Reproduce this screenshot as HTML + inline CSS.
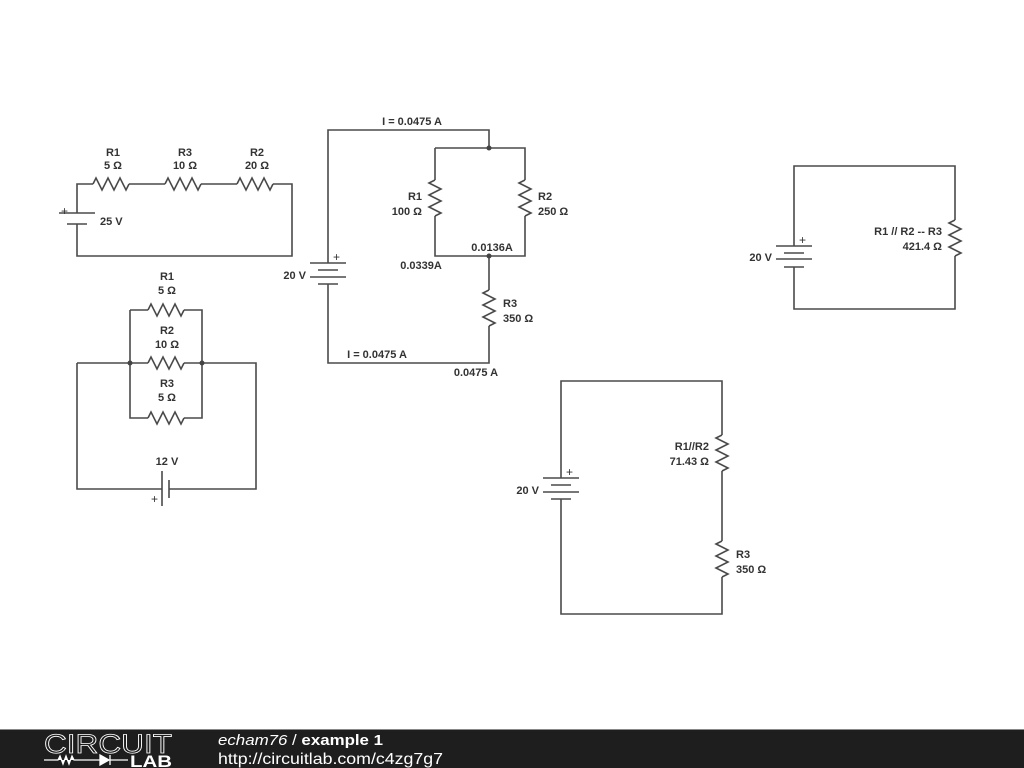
<!DOCTYPE html>
<html><head><meta charset="utf-8"><style>
body{margin:0;width:1024px;height:768px;background:#fff;overflow:hidden;}
svg{display:block}
text{font-family:"Liberation Sans",sans-serif;font-weight:bold;font-size:11px;fill:#333;}
.w{fill:none;stroke:#4a4a4a;stroke-width:1.6;stroke-linejoin:miter}
</style></head><body>
<svg width="1024" height="768" viewBox="0 0 1024 768">
<defs>
<path id="rh" d="M0,0 l3,-6 l6,12 l6,-12 l6,12 l6,-12 l6,12 l3,-6" class="w"/>
<path id="rv" d="M0,0 l-6,3 l12,6 l-12,6 l12,6 l-12,6 l12,6 l-6,3" class="w"/>
</defs>
<!-- circuit 1 -->
<path class="w" d="M77,213 V184 H93 M129,184 H165 M201,184 H237 M273,184 H292 V256 H77 V224"/>
<use href="#rh" x="93" y="184"/><use href="#rh" x="165" y="184"/><use href="#rh" x="237" y="184"/>
<path class="w" d="M59,213 H95 M67,224 H87"/>
<text x="61" y="215" style="font-weight:normal;font-size:12px">+</text>
<text x="100" y="225">25 V</text>
<text x="113" y="156" text-anchor="middle">R1</text><text x="113" y="169" text-anchor="middle">5 Ω</text>
<text x="185" y="156" text-anchor="middle">R3</text><text x="185" y="169" text-anchor="middle">10 Ω</text>
<text x="257" y="156" text-anchor="middle">R2</text><text x="257" y="169" text-anchor="middle">20 Ω</text>
<!-- circuit 2 -->
<path class="w" d="M130,310 H148 M184,310 H202 V418 H184 M148,418 H130 V310 M77,363 H148 M184,363 H256 V489 H169 M162,489 H77 V363"/>
<use href="#rh" x="148" y="310"/><use href="#rh" x="148" y="363"/><use href="#rh" x="148" y="418"/>
<circle cx="130" cy="363" r="2.5" fill="#444"/><circle cx="202" cy="363" r="2.5" fill="#444"/>
<path class="w" d="M162,471 V506 M169,480 V498"/>
<text x="151" y="503" style="font-weight:normal;font-size:12px">+</text>
<text x="167" y="465" text-anchor="middle">12 V</text>
<text x="167" y="280" text-anchor="middle">R1</text><text x="167" y="294" text-anchor="middle">5 Ω</text>
<text x="167" y="334" text-anchor="middle">R2</text><text x="167" y="348" text-anchor="middle">10 Ω</text>
<text x="167" y="387" text-anchor="middle">R3</text><text x="167" y="401" text-anchor="middle">5 Ω</text>
<!-- circuit 3 -->
<path class="w" d="M328,263 V130 H489 V148 M435,148 H525 V180 M525,216 V256 H435 V216 M435,180 V148 M489,256 V290 M489,326 V363 H328 V284"/>
<use href="#rv" x="435" y="180"/><use href="#rv" x="525" y="180"/><use href="#rv" x="489" y="290"/>
<circle cx="489" cy="148" r="2.5" fill="#444"/><circle cx="489" cy="256" r="2.5" fill="#444"/>
<path class="w" d="M310,263 H346 M318,270 H338 M310,277 H346 M318,284 H338"/>
<text x="333" y="261" style="font-weight:normal;font-size:12px">+</text>
<text x="306" y="279" text-anchor="end">20 V</text>
<text x="412" y="125" text-anchor="middle">I = 0.0475 A</text>
<text x="422" y="200" text-anchor="end">R1</text><text x="422" y="215" text-anchor="end">100 Ω</text>
<text x="538" y="200">R2</text><text x="538" y="215">250 Ω</text>
<text x="492" y="251" text-anchor="middle">0.0136A</text>
<text x="421" y="269" text-anchor="middle">0.0339A</text>
<text x="503" y="307">R3</text><text x="503" y="322">350 Ω</text>
<text x="377" y="358" text-anchor="middle">I = 0.0475 A</text>
<text x="476" y="376" text-anchor="middle">0.0475 A</text>
<!-- circuit 4 -->
<path class="w" d="M794,246 V166 H955 V220 M955,256 V309 H794 V267"/>
<use href="#rv" x="955" y="220"/>
<path class="w" d="M776,246 H812 M784,253 H804 M776,259 H812 M784,267 H804"/>
<text x="799" y="244" style="font-weight:normal;font-size:12px">+</text>
<text x="772" y="261" text-anchor="end">20 V</text>
<text x="942" y="235" text-anchor="end">R1 // R2 -- R3</text><text x="942" y="250" text-anchor="end">421.4 Ω</text>
<!-- circuit 5 -->
<path class="w" d="M561,478 V381 H722 V435 M722,471 V541 M722,577 V614 H561 V499"/>
<use href="#rv" x="722" y="435"/><use href="#rv" x="722" y="541"/>
<path class="w" d="M543,478 H579 M551,485 H571 M543,492 H579 M551,499 H571"/>
<text x="566" y="476" style="font-weight:normal;font-size:12px">+</text>
<text x="539" y="494" text-anchor="end">20 V</text>
<text x="709" y="450" text-anchor="end">R1//R2</text><text x="709" y="465" text-anchor="end">71.43 Ω</text>
<text x="736" y="558">R3</text><text x="736" y="573">350 Ω</text>
<!-- footer -->
<rect x="0" y="729" width="1024" height="39" fill="#1e1e1e"/>
<rect x="0" y="729" width="1024" height="1" fill="#888"/>
<text x="44" y="753" textLength="128" lengthAdjust="spacingAndGlyphs" style="font-weight:normal;font-size:27px;fill:none;stroke:#fff;stroke-width:0.8">CIRCUIT</text>
<path d="M44,760 H58 l2,-4 l3,8 l3,-8 l3,8 l3,-8 l2,4 H100 M100,755 V765 l9,-5 z M110,755 V765 M110,760 H128" stroke="#fff" stroke-width="1.3" fill="#fff"/>
<text x="130" y="767" textLength="42" lengthAdjust="spacingAndGlyphs" style="font-size:17px;fill:#fff">LAB</text>
<text x="218" y="745" textLength="165" lengthAdjust="spacingAndGlyphs" style="font-weight:normal;font-style:italic;font-size:15px;fill:#fff">echam76 <tspan style="font-style:normal">/</tspan> <tspan style="font-style:normal;font-weight:bold">example 1</tspan></text>
<text x="218" y="764" textLength="225" lengthAdjust="spacingAndGlyphs" style="font-weight:normal;font-size:16px;fill:#fff">http://circuitlab.com/c4zg7g7</text>
</svg>
</body></html>
